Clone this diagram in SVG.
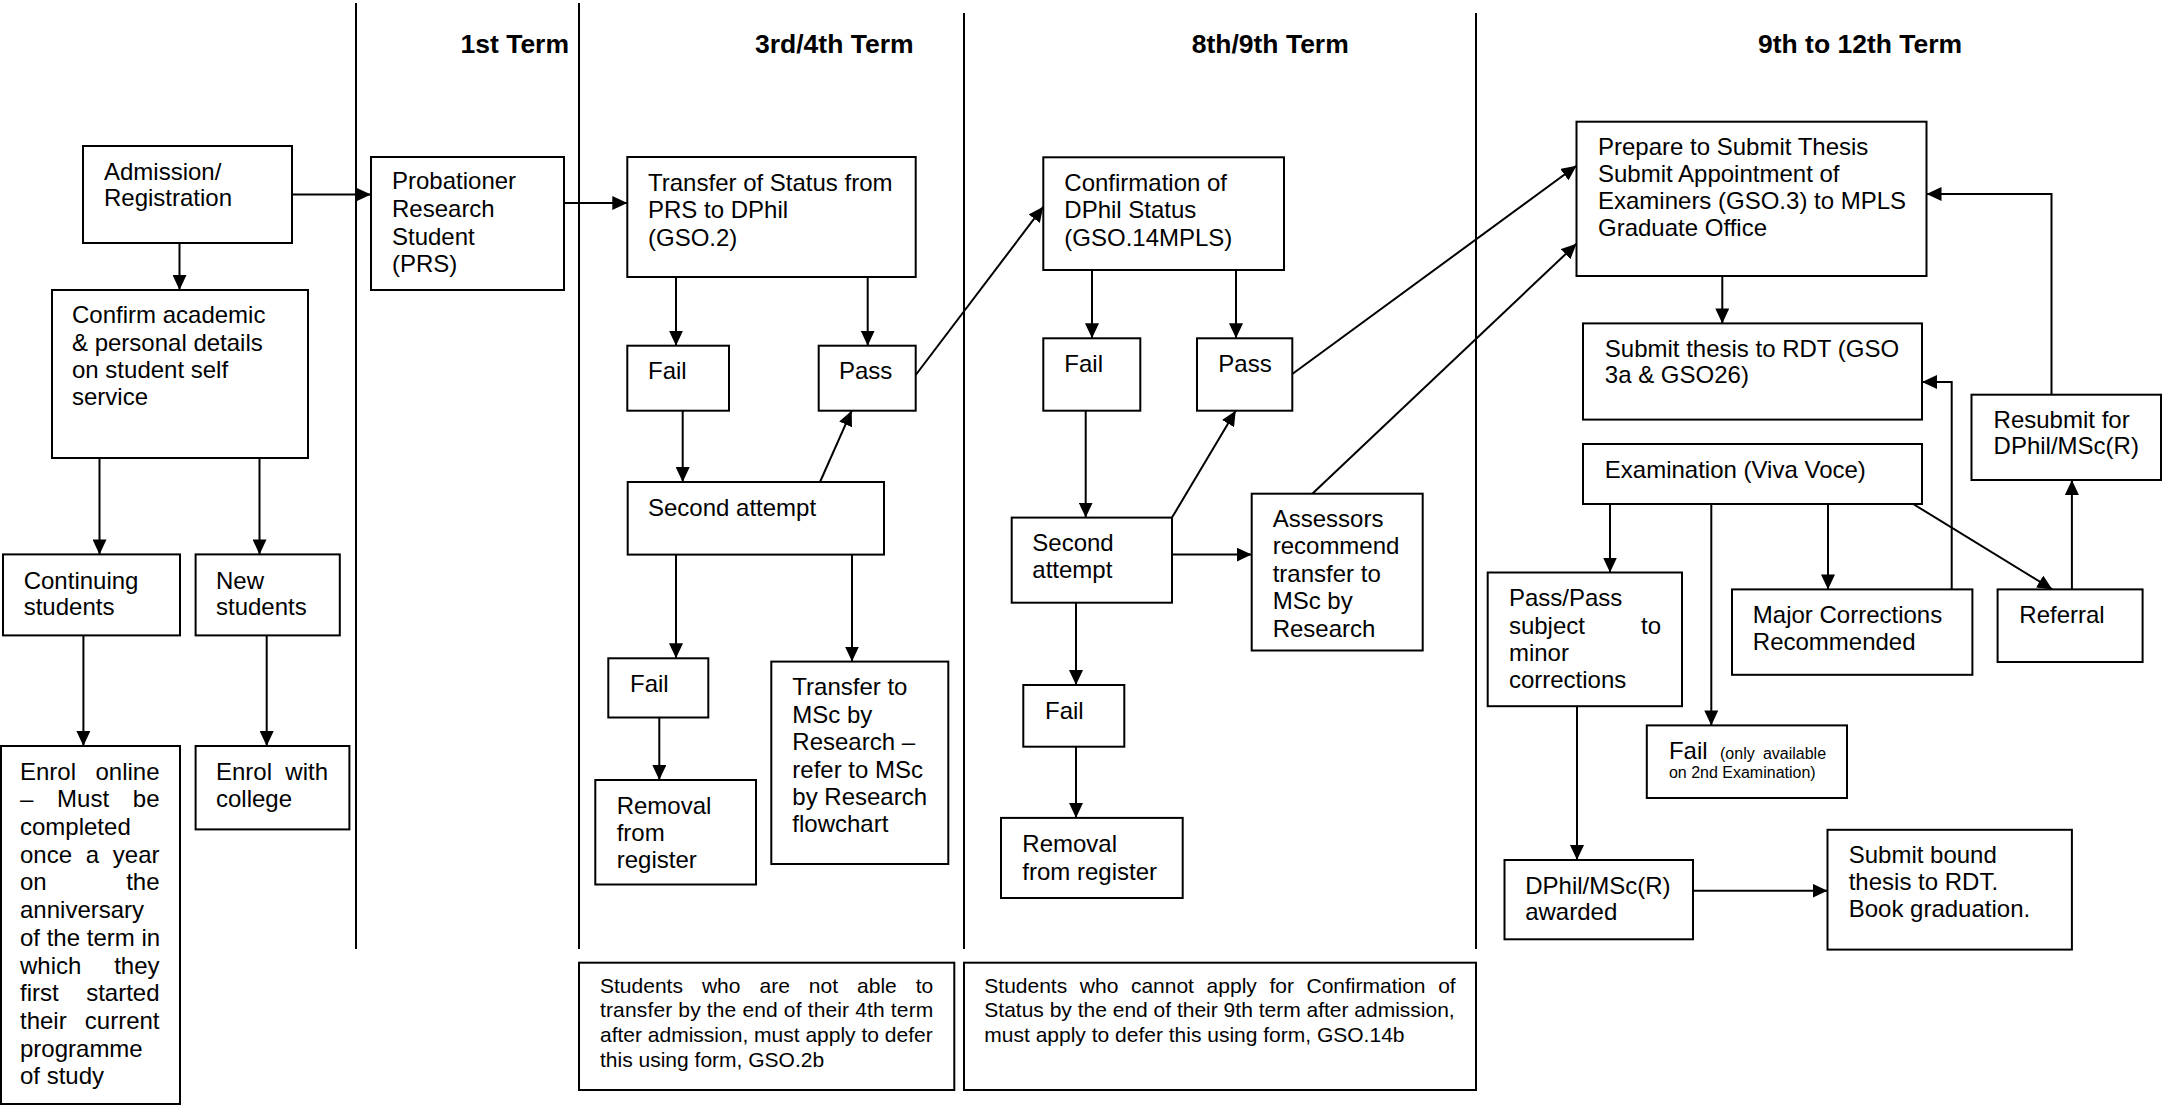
<svg xmlns="http://www.w3.org/2000/svg" width="2163" height="1105" viewBox="0 0 2163 1105">
<defs>
<style>
.b{fill:#fff;stroke:#000;stroke-width:2}
.t{font-family:"Liberation Sans",Arial,sans-serif;font-size:24px;fill:#000}
.h{font-family:"Liberation Sans",Arial,sans-serif;font-size:26.5px;font-weight:bold;fill:#000}
.n{font-family:"Liberation Sans",Arial,sans-serif;font-size:21px;fill:#000}
.s{font-family:"Liberation Sans",Arial,sans-serif;font-size:16px;fill:#000}
.e{text-anchor:end}
.c{fill:none;stroke:#000;stroke-width:2;marker-end:url(#ah)}
.l{fill:none;stroke:#000;stroke-width:2}
</style>
<marker id="ah" markerUnits="userSpaceOnUse" markerWidth="16" markerHeight="14" refX="15" refY="7" orient="auto">
<path d="M0,0 L15,7 L0,14 z" fill="#000"/>
</marker>
</defs>
<rect width="2163" height="1105" fill="#fff"/>

<g id="lanes">
<line class="l" x1="356" y1="3" x2="356" y2="949"/>
<line class="l" x1="579" y1="3" x2="579" y2="949"/>
<line class="l" x1="964" y1="13" x2="964" y2="949"/>
<line class="l" x1="1476" y1="13" x2="1476" y2="949"/>
<text class="h e" x="569" y="53">1st Term</text>
<text class="h" x="755" y="53">3rd/4th Term</text>
<text class="h" x="1191.7" y="53">8th/9th Term</text>
<text class="h" x="1758" y="53">9th to 12th Term</text>
</g>

<g id="connectors">
<line class="c" x1="291.6" y1="194.6" x2="371" y2="194.6"/>
<line class="c" x1="179.5" y1="243" x2="179.5" y2="290"/>
<line class="c" x1="99.5" y1="458" x2="99.5" y2="554.4"/>
<line class="c" x1="259.5" y1="458" x2="259.5" y2="554.4"/>
<line class="c" x1="83.4" y1="635.5" x2="83.4" y2="746"/>
<line class="c" x1="266.7" y1="635.5" x2="266.7" y2="746"/>
<line class="c" x1="564" y1="203" x2="627.3" y2="203"/>
<line class="c" x1="676" y1="277" x2="676" y2="345.7"/>
<line class="c" x1="867.7" y1="277" x2="867.7" y2="345.7"/>
<line class="c" x1="682.7" y1="410.7" x2="682.7" y2="482"/>
<line class="c" x1="820" y1="482" x2="851.7" y2="410.7"/>
<line class="c" x1="915.7" y1="375" x2="1043.3" y2="206.7"/>
<line class="c" x1="676" y1="554.6" x2="676" y2="658.3"/>
<line class="c" x1="852" y1="554.6" x2="852" y2="661.6"/>
<line class="c" x1="659.3" y1="717.5" x2="659.3" y2="780"/>
<line class="c" x1="1092" y1="270" x2="1092" y2="338.3"/>
<line class="c" x1="1236" y1="270" x2="1236" y2="338.3"/>
<line class="c" x1="1085.7" y1="410.7" x2="1085.7" y2="517.6"/>
<line class="c" x1="1172" y1="517.6" x2="1235.7" y2="410.7"/>
<line class="c" x1="1172" y1="554.6" x2="1251.7" y2="554.6"/>
<line class="c" x1="1076" y1="602.7" x2="1076" y2="685"/>
<line class="c" x1="1076" y1="746.7" x2="1076" y2="817.9"/>
<line class="c" x1="1292.3" y1="374" x2="1576.5" y2="165.8"/>
<line class="c" x1="1312.3" y1="493.7" x2="1576.5" y2="243.8"/>
<line class="c" x1="1722.3" y1="276" x2="1722.3" y2="323.4"/>
<line class="c" x1="1610" y1="504" x2="1610" y2="572.5"/>
<line class="c" x1="1711.3" y1="504" x2="1711.3" y2="725.4"/>
<line class="c" x1="1828" y1="504" x2="1828" y2="589.4"/>
<line class="c" x1="1913.2" y1="504" x2="2052.4" y2="589.4"/>
<polyline class="c" points="1951.7,589.4 1951.7,382 1922,382"/>
<line class="c" x1="2071.9" y1="589.4" x2="2071.9" y2="480"/>
<polyline class="c" points="2051.5,394.7 2051.5,194 1926.5,194"/>
<line class="c" x1="1577" y1="706.2" x2="1577" y2="860"/>
<line class="c" x1="1693" y1="890.7" x2="1827.5" y2="890.7"/>
</g>

<g id="admission">
<rect class="b" x="83" y="146" width="209" height="97"/>
<text class="t" x="104" y="179.6">Admission/</text>
<text class="t" x="104" y="206.4">Registration</text>
</g>

<g id="prs">
<rect class="b" x="371" y="157" width="193" height="133"/>
<text class="t" x="392" y="189">Probationer</text>
<text class="t" x="392" y="217">Research</text>
<text class="t" x="392" y="245">Student</text>
<text class="t" x="392" y="272">(PRS)</text>
</g>

<g id="confirm-details">
<rect class="b" x="52" y="290" width="256" height="168"/>
<text class="t" x="72" y="323">Confirm academic</text>
<text class="t" x="72" y="351">&amp; personal details</text>
<text class="t" x="72" y="378">on student self</text>
<text class="t" x="72" y="405">service</text>
</g>

<g id="continuing">
<rect class="b" x="3" y="554.4" width="177" height="81"/>
<text class="t" x="23.7" y="588.6">Continuing</text>
<text class="t" x="23.7" y="615">students</text>
</g>

<g id="new-students">
<rect class="b" x="195.6" y="554.4" width="144.2" height="81"/>
<text class="t" x="216" y="588.6">New</text>
<text class="t" x="216" y="615">students</text>
</g>

<g id="enrol-online">
<rect class="b" x="1" y="746" width="179" height="358"/>
<text class="t" x="20" y="779.6">Enrol</text><text class="t e" x="159.5" y="779.6">online</text>
<text class="t" x="20" y="807.3">–</text><text class="t" x="57.1" y="807.3">Must</text><text class="t e" x="159.5" y="807.3">be</text>
<text class="t" x="20" y="835">completed</text>
<text class="t" x="20" y="862.7">once</text><text class="t" x="85.8" y="862.7">a</text><text class="t e" x="159.5" y="862.7">year</text>
<text class="t" x="20" y="890.4">on</text><text class="t e" x="159.5" y="890.4">the</text>
<text class="t" x="20" y="918.1">anniversary</text>
<text class="t" x="20" y="945.8">of the term in</text>
<text class="t" x="20" y="973.5">which</text><text class="t e" x="159.5" y="973.5">they</text>
<text class="t" x="20" y="1001.2">first</text><text class="t e" x="159.5" y="1001.2">started</text>
<text class="t" x="20" y="1028.9">their</text><text class="t e" x="159.5" y="1028.9">current</text>
<text class="t" x="20" y="1056.6">programme</text>
<text class="t" x="20" y="1084.3">of study</text>
</g>

<g id="enrol-college">
<rect class="b" x="195.6" y="746" width="153.8" height="83.4"/>
<text class="t" x="216" y="779.6">Enrol</text><text class="t e" x="328" y="779.6">with</text>
<text class="t" x="216" y="807">college</text>
</g>

<g id="transfer-status">
<rect class="b" x="627.3" y="157" width="288.4" height="120"/>
<text class="t" x="648" y="191">Transfer of Status from</text>
<text class="t" x="648" y="218">PRS to DPhil</text>
<text class="t" x="648" y="246">(GSO.2)</text>
</g>

<g id="fail-1">
<rect class="b" x="627.3" y="345.7" width="101.7" height="65"/>
<text class="t" x="648" y="379">Fail</text>
</g>

<g id="pass-1">
<rect class="b" x="818.7" y="345.7" width="97" height="65"/>
<text class="t" x="839" y="379">Pass</text>
</g>

<g id="second-attempt-1">
<rect class="b" x="627.7" y="482" width="256.3" height="72.6"/>
<text class="t" x="648" y="516">Second attempt</text>
</g>

<g id="fail-2">
<rect class="b" x="608.3" y="658.3" width="100" height="59.2"/>
<text class="t" x="630" y="692.4">Fail</text>
</g>

<g id="removal-1">
<rect class="b" x="595.3" y="780" width="160.7" height="104.5"/>
<text class="t" x="616.7" y="813.8">Removal</text>
<text class="t" x="616.7" y="841">from</text>
<text class="t" x="616.7" y="868">register</text>
</g>

<g id="transfer-msc">
<rect class="b" x="771.3" y="661.6" width="177" height="202.4"/>
<text class="t" x="792.3" y="695.3">Transfer to</text>
<text class="t" x="792.3" y="722.7">MSc by</text>
<text class="t" x="792.3" y="750.1">Research –</text>
<text class="t" x="792.3" y="777.5">refer to MSc</text>
<text class="t" x="792.3" y="804.9">by Research</text>
<text class="t" x="792.3" y="832.3">flowchart</text>
</g>

<g id="confirmation">
<rect class="b" x="1043.3" y="157.3" width="240.7" height="112.7"/>
<text class="t" x="1064.3" y="191">Confirmation of</text>
<text class="t" x="1064.3" y="218.3">DPhil Status</text>
<text class="t" x="1064.3" y="246">(GSO.14MPLS)</text>
</g>

<g id="fail-3">
<rect class="b" x="1043.3" y="338.3" width="97" height="72.4"/>
<text class="t" x="1064.3" y="371.7">Fail</text>
</g>

<g id="pass-3">
<rect class="b" x="1197" y="338.3" width="95.3" height="72.4"/>
<text class="t" x="1218.3" y="371.7">Pass</text>
</g>

<g id="second-attempt-2">
<rect class="b" x="1011.7" y="517.6" width="160.3" height="85.1"/>
<text class="t" x="1032.3" y="550.5">Second</text>
<text class="t" x="1032.3" y="578">attempt</text>
</g>

<g id="assessors">
<rect class="b" x="1251.7" y="493.7" width="171" height="156.8"/>
<text class="t" x="1272.7" y="526.6">Assessors</text>
<text class="t" x="1272.7" y="554.2">recommend</text>
<text class="t" x="1272.7" y="581.8">transfer to</text>
<text class="t" x="1272.7" y="609.4">MSc by</text>
<text class="t" x="1272.7" y="637">Research</text>
</g>

<g id="fail-4">
<rect class="b" x="1023.3" y="685" width="101" height="61.7"/>
<text class="t" x="1045" y="719.2">Fail</text>
</g>

<g id="removal-2">
<rect class="b" x="1001" y="817.9" width="181.7" height="80.1"/>
<text class="t" x="1022.3" y="852">Removal</text>
<text class="t" x="1022.3" y="879.6">from register</text>
</g>

<g id="prepare">
<rect class="b" x="1576.5" y="121.7" width="350" height="154.3"/>
<text class="t" x="1598" y="154.5">Prepare to Submit Thesis</text>
<text class="t" x="1598" y="181.5">Submit Appointment of</text>
<text class="t" x="1598" y="208.5">Examiners (GSO.3) to MPLS</text>
<text class="t" x="1598" y="235.5">Graduate Office</text>
</g>

<g id="submit-thesis">
<rect class="b" x="1583" y="323.4" width="339" height="96.2"/>
<text class="t" x="1604.8" y="356.5">Submit thesis to RDT (GSO</text>
<text class="t" x="1604.8" y="383">3a &amp; GSO26)</text>
</g>

<g id="examination">
<rect class="b" x="1583" y="444" width="339" height="60"/>
<text class="t" x="1604.8" y="477.5">Examination (Viva Voce)</text>
</g>

<g id="resubmit">
<rect class="b" x="1971.5" y="394.7" width="189.5" height="85.3"/>
<text class="t" x="1993.6" y="427.9">Resubmit for</text>
<text class="t" x="1993.6" y="454.4">DPhil/MSc(R)</text>
</g>

<g id="pass-minor">
<rect class="b" x="1487.7" y="572.5" width="194.3" height="133.7"/>
<text class="t" x="1508.9" y="606">Pass/Pass</text>
<text class="t" x="1508.9" y="633.5">subject</text><text class="t e" x="1661" y="633.5">to</text>
<text class="t" x="1508.9" y="661">minor</text>
<text class="t" x="1508.9" y="688">corrections</text>
</g>

<g id="major">
<rect class="b" x="1732" y="589.4" width="240.4" height="85.4"/>
<text class="t" x="1752.8" y="622.5">Major Corrections</text>
<text class="t" x="1752.8" y="650">Recommended</text>
</g>

<g id="referral">
<rect class="b" x="1997.6" y="589.4" width="145" height="72.6"/>
<text class="t" x="2019.3" y="622.5">Referral</text>
</g>

<g id="fail-5">
<rect class="b" x="1646.8" y="725.4" width="200.2" height="72.6"/>
<text class="t" x="1668.9" y="759.2">Fail</text>
<text class="s" x="1720" y="759.2">(only</text><text class="s" x="1762.9" y="759.2">available</text>
<text class="s" x="1668.9" y="778">on 2nd Examination)</text>
</g>

<g id="awarded">
<rect class="b" x="1504.5" y="860" width="188.5" height="79.3"/>
<text class="t" x="1525.2" y="893.5">DPhil/MSc(R)</text>
<text class="t" x="1525.2" y="920">awarded</text>
</g>

<g id="bound">
<rect class="b" x="1827.5" y="829.8" width="244.4" height="119.8"/>
<text class="t" x="1848.7" y="862.5">Submit bound</text>
<text class="t" x="1848.7" y="890">thesis to RDT.</text>
<text class="t" x="1848.7" y="917">Book graduation.</text>
</g>

<g id="note-transfer">
<rect class="b" x="579" y="962.7" width="375.3" height="127.3"/>
<text class="n" x="600" y="992.7">Students</text><text class="n" x="701.9" y="992.7">who</text><text class="n" x="759.5" y="992.7">are</text><text class="n" x="808.8" y="992.7">not</text><text class="n" x="857.1" y="992.7">able</text><text class="n e" x="933.3" y="992.7">to</text>
<text class="n" x="600" y="1017.4" textLength="333.3" lengthAdjust="spacing">transfer by the end of their 4th term</text>
<text class="n" x="600" y="1042.1">after admission, must apply to defer</text>
<text class="n" x="600" y="1066.8">this using form, GSO.2b</text>
</g>

<g id="note-confirmation">
<rect class="b" x="964" y="962.7" width="512" height="127.3"/>
<text class="n" x="984.3" y="992.7">Students</text><text class="n" x="1079.8" y="992.7">who</text><text class="n" x="1130.9" y="992.7">cannot</text><text class="n" x="1206.6" y="992.7">apply</text><text class="n" x="1269.4" y="992.7">for</text><text class="n" x="1306.5" y="992.7">Confirmation</text><text class="n e" x="1455.7" y="992.7">of</text>
<text class="n" x="984.3" y="1017.4">Status by the end of their 9th term after admission,</text>
<text class="n" x="984.3" y="1042.1">must apply to defer this using form, GSO.14b</text>
</g>
</svg>
